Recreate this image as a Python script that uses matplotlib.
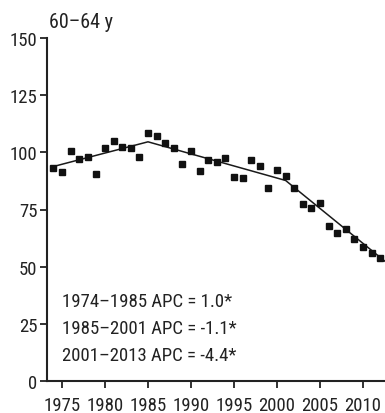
import matplotlib
matplotlib.use("Agg")
import matplotlib.pyplot as plt

years = list(range(1974, 2013))
rates = [93.1, 91.2, 100.6, 97.0, 98.1, 90.7, 102.0, 105.1, 102.5, 101.9,
         97.9, 108.3, 107.1, 104.0, 102.0, 94.8, 100.5, 92.0, 96.7, 95.7,
         97.4, 89.4, 88.7, 96.7, 94.2, 84.6, 92.3, 89.7, 84.6, 77.5,
         75.6, 77.8, 67.6, 64.8, 66.5, 62.1, 58.7, 56.1, 53.6]
fit_years = [1974, 1985, 2001, 2013]
fit_values = [93.8, 104.6, 87.7, 51.0]
title = "60\u201364 y"
apc_labels = ["1974\u20131985 APC = 1.0*",
              "1985\u20132001 APC = -1.1*",
              "2001\u20132013 APC = -4.4*"]
xticks = [1975, 1980, 1985, 1990, 1995, 2000, 2005, 2010]
yticks = [0, 25, 50, 75, 100, 125, 150]

fam = ['Roboto Condensed', 'Liberation Sans', 'DejaVu Sans']
plt.rcParams['font.family'] = fam

W, H = 385, 414
fig = plt.figure(figsize=(W / 100, H / 100), dpi=100)
left_px, right_px = 47, 400
top_px, bottom_px = 39, 382
ax = fig.add_axes([left_px / W, 1 - bottom_px / H,
                   (right_px - left_px) / W, (bottom_px - top_px) / H])
px_per_year = 8.6
x0 = 1975 - (62 - left_px) / px_per_year
ax.set_xlim(x0, x0 + (right_px - left_px) / px_per_year)
ax.set_ylim(0, 150)

ax.plot(fit_years, fit_values, color='#1a1a1a', lw=1.1, zorder=2)
ax.plot(years, rates, 's', color='#111111', ms=4.8, zorder=3)

for s in ['top', 'right']:
    ax.spines[s].set_visible(False)
for s in ['left', 'bottom']:
    ax.spines[s].set_linewidth(1.5)
    ax.spines[s].set_color('#222222')

ax.set_xticks(xticks)
ax.set_yticks(yticks)
ax.tick_params(direction='out', length=5, width=1.3, colors='#222222',
               labelsize=13.5, pad=2, labelcolor='#222222')
ax.tick_params(axis='x', pad=5.5)

ybase = [32.7, 20.9, 9.1]
for lab, yb in zip(apc_labels, ybase):
    ax.text(1975, yb, lab, fontsize=13.5, va='baseline', ha='left', color='#222222')

fig.text(49 / W, 1 - 28 / H, title, fontsize=14.5, va='baseline', ha='left', color='#222222')

fig.savefig('out.png', dpi=100)
